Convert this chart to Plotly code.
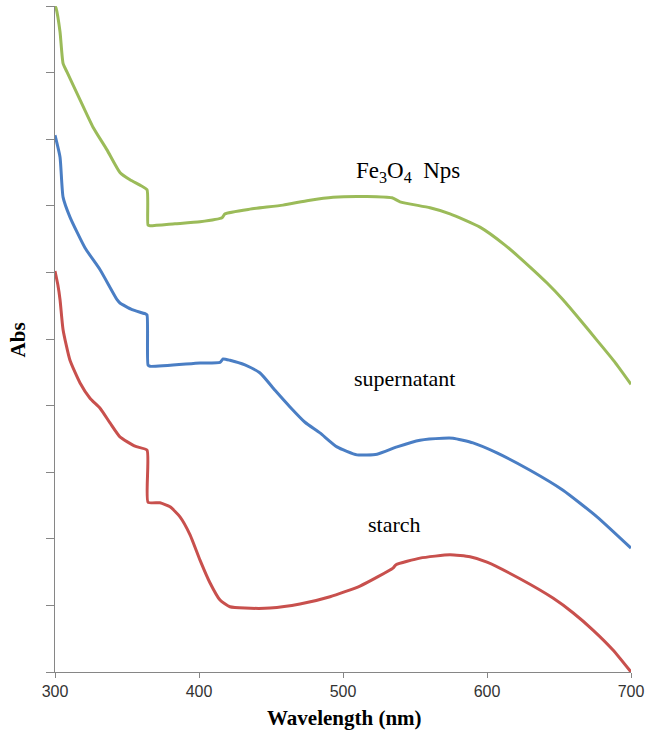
import plotly.graph_objects as go

# Fe3O4 Nps (green)
fe_wl = [300, 300.7, 303.5, 305.6, 308.3, 317.4, 326.4, 336.1, 345.1, 352.1, 359.0, 363.9, 364.6, 366.0,
         383.3, 400.7, 416.0, 418.1, 435.4, 458.3, 476.0, 493.1, 516.7, 534.0, 539.6, 560.4, 574.3, 595.1,
         612.5, 629.9, 641.7, 652.8, 664.6, 676.4, 688.9, 700]
fe_abs = [1.000, 0.997, 0.961, 0.914, 0.901, 0.859, 0.818, 0.784, 0.750, 0.739, 0.731, 0.724, 0.671, 0.670,
          0.673, 0.676, 0.682, 0.688, 0.695, 0.701, 0.708, 0.713, 0.714, 0.712, 0.706, 0.697, 0.688, 0.668,
          0.641, 0.608, 0.584, 0.559, 0.529, 0.498, 0.465, 0.432]

# supernatant (blue)
sup_wl = [300, 303.5, 305.6, 310.4, 320.8, 331.3, 343.1, 345.1, 353.5, 362.5, 363.9, 364.6, 366.0,
          400.7, 414.6, 416.7, 421.5, 431.9, 442.4, 452.8, 463.2, 473.6, 484.0, 495.8, 509.7, 523.6, 537.5, 553.5,
          569.4, 576.4, 590.3, 606.9, 629.9, 652.8, 676.4, 700]
sup_abs = [0.806, 0.773, 0.713, 0.683, 0.637, 0.604, 0.559, 0.554, 0.544, 0.538, 0.536, 0.461, 0.459,
           0.464, 0.465, 0.470, 0.468, 0.461, 0.449, 0.423, 0.398, 0.375, 0.359, 0.338, 0.326, 0.327, 0.338, 0.348,
           0.351, 0.351, 0.344, 0.329, 0.303, 0.273, 0.233, 0.186]

# starch (red)
st_wl = [300, 302, 303.5, 305.6, 310.4, 317.4, 324.3, 331.3, 338.2, 345.1, 355.6, 363.9, 364.6, 372.9,
         379.9, 386.8, 393.8, 400.7, 407.6, 414.6, 421.5, 431.9, 449.3, 470.1, 491.0, 511.8, 534.7, 536.8,
         553.5, 574.3, 588.2, 600.0, 622.9, 645.8, 659.7, 673.6, 687.5, 700]
st_abs = [0.602, 0.581, 0.559, 0.514, 0.468, 0.434, 0.411, 0.396, 0.374, 0.353, 0.339, 0.333, 0.255, 0.254,
          0.248, 0.233, 0.206, 0.168, 0.134, 0.108, 0.098, 0.096, 0.096, 0.102, 0.113, 0.129, 0.156, 0.161,
          0.171, 0.176, 0.173, 0.165, 0.140, 0.111, 0.089, 0.063, 0.033, 0.000]

x_ticks = [300, 400, 500, 600, 700]

fig = go.Figure()
for wl, ab, col in [(fe_wl, fe_abs, "#9BBB59"), (sup_wl, sup_abs, "#4A7EC4"), (st_wl, st_abs, "#C8504D")]:
    fig.add_trace(go.Scatter(x=wl, y=ab, mode="lines",
                             line=dict(color=col, width=3, shape="spline", smoothing=0.5),
                             showlegend=False, hoverinfo="skip"))

serif = "Liberation Serif, Times New Roman, serif"
fig.update_layout(
    width=651, height=742,
    margin=dict(l=55, r=20, t=6, b=70),
    plot_bgcolor="white", paper_bgcolor="white",
    xaxis=dict(range=[300, 700], tickvals=x_ticks, ticktext=[str(t) for t in x_ticks],
               showgrid=False, zeroline=False, showline=True, linecolor="#868686", linewidth=1,
               ticks="outside", ticklen=5, tickcolor="#868686",
               tickfont=dict(family="Liberation Sans, Arial, sans-serif", size=16, color="#333333")),
    yaxis=dict(range=[0, 1], dtick=0.1, tick0=0, showticklabels=False,
               showgrid=False, zeroline=False, showline=True, linecolor="#868686", linewidth=1,
               ticks="outside", ticklen=8, tickcolor="#868686"),
    annotations=[
        dict(text="<b>Abs</b>", xref="paper", yref="paper", x=-0.064, y=0.498, textangle=-90,
             xanchor="center", yanchor="middle",
             showarrow=False, font=dict(family=serif, size=21, color="black")),
        dict(text="<b>Wavelength (nm)</b>", xref="paper", yref="paper", x=0.502, y=-0.069,
             xanchor="center", yanchor="middle",
             showarrow=False, font=dict(family=serif, size=21, color="black")),
        dict(text="Fe<sub>3</sub>O<sub>4</sub>  Nps", x=545, y=0.751, showarrow=False,
             xanchor="center", yanchor="middle",
             font=dict(family=serif, size=23, color="black")),
        dict(text="supernatant", x=543, y=0.441, showarrow=False,
             xanchor="center", yanchor="middle",
             font=dict(family=serif, size=22, color="black")),
        dict(text="starch", x=536, y=0.221, showarrow=False,
             xanchor="center", yanchor="middle",
             font=dict(family=serif, size=22, color="black")),
    ],
)

fig.write_html("out.html")
